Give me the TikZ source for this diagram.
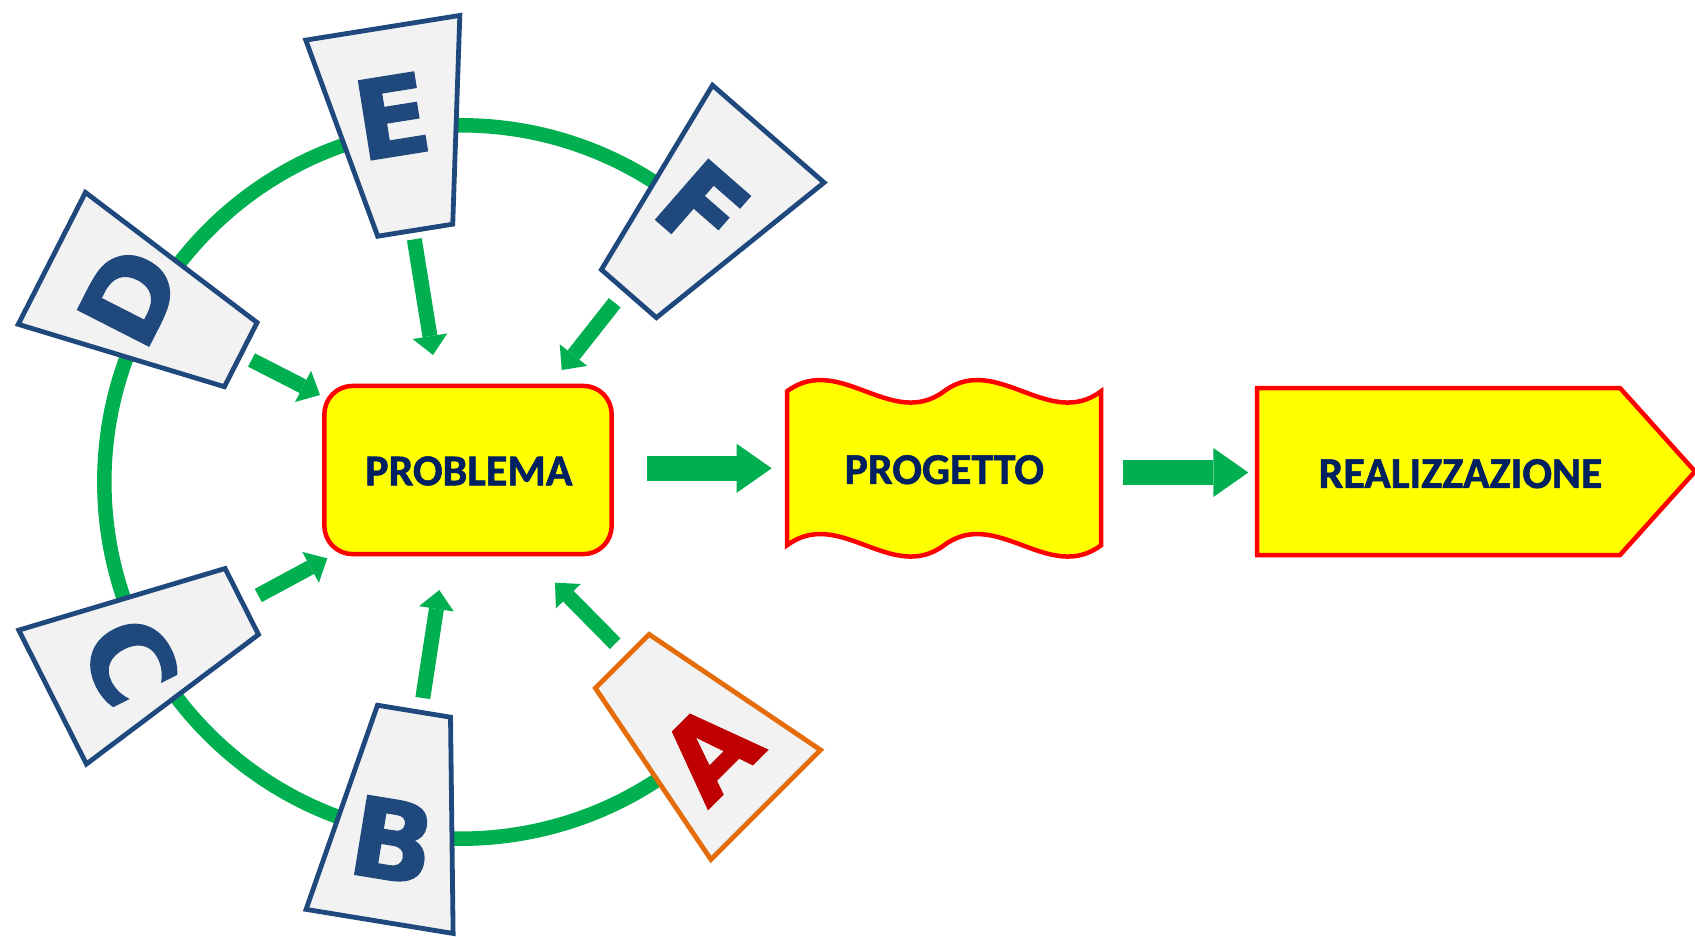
\documentclass[tikz,border=0pt]{standalone}
\usepackage{fontspec}
\usetikzlibrary{arrows.meta}
\newfontfamily\letterfont{DejaVu Sans}[BoldFeatures={FakeBold=1.3}]
\newfontfamily\boxfont{Carlito}[BoldFeatures={FakeBold=1.2}]
\definecolor{grn}{HTML}{00B050}
\definecolor{tblue}{HTML}{1F497D}
\definecolor{trapfill}{HTML}{F2F2F2}
\definecolor{navy}{HTML}{002060}
\definecolor{aorange}{HTML}{E46C0A}
\definecolor{adark}{HTML}{C00000}
\definecolor{yel}{HTML}{FFFF00}
\definecolor{rd}{HTML}{FF0000}
\tikzset{
  letter/.style={font=\letterfont\bfseries\fontsize{31.2}{31.2}\selectfont, text=tblue, inner sep=0pt},
  trapbox/.style={draw=tblue, fill=trapfill, line width=0.048cm},
  boxtext/.style={font=\boxfont\bfseries\fontsize{12.5}{12.5}\selectfont, text=navy, inner sep=0pt},
  yshape/.style={draw=rd, fill=yel, line width=0.045cm},
  ring/.style={draw=grn, line width=0.145cm},
  garrow/.style={draw=grn, line width=0.15cm, -{Triangle[width=0.35cm,length=0.19cm,line width=0pt]}},
  bigarrow/.style={draw=grn, line width=0.25cm, -{Triangle[width=0.49cm,length=0.35cm,line width=0pt]}}
}
\newcommand\trapz[7]{%
  \begin{scope}[shift={(#1,#2)}, rotate=#3]
    \draw[#7] (-#4,-#6) -- (#4,-#6) -- (#5,#6) -- (-#5,#6) -- cycle;
  \end{scope}}
\begin{document}
\begin{tikzpicture}[x=0.01cm, y=-0.01cm]
\useasboundingbox (0,0) rectangle (1695,937);
% ring
\coordinate (ctr) at (461,482);
\draw[ring] (ctr) ++(48.5:3.565cm) arc[start angle=48.5, end angle=312.9, radius=3.565cm];
% trapezoids
\trapz{399}{129}{9.1}{78}{38}{102.5}{trapbox}
\trapz{146.3}{306.5}{63}{74}{36}{106}{trapbox}
\trapz{698.6}{213.8}{-41.1}{74}{36.5}{106}{trapbox}
\trapz{147.2}{649.3}{116.8}{75}{37}{106}{trapbox}
\trapz{396.8}{816.3}{170.7}{74.5}{37}{106.5}{trapbox}
\trapz{694}{733}{225}{77.5}{38}{101.5}{trapbox, draw=aorange}
% letters
\node[letter, rotate=9.1] (E) at (392,116) {E};
\node[letter, rotate=63] (D) at (129.4,296.2) {D};
\node[letter, rotate=-41.1] (F) at (702.7,207.6) {F};
\node[letter, rotate=-63.2] (C) at (130,660.7) {C};
\node[letter, rotate=-9.3] (B) at (392.6,840) {B};
\node[letter, rotate=45, text=adark] (A) at (709.6,751.3) {A};
% main shapes
\node[yshape, rounded corners=0.28cm, minimum width=2.87cm, minimum height=1.68cm, inner sep=0pt] (Pbox) at (468,470) {};
\node[boxtext] (P) at (468.8,471) {PROBLEMA};
\draw[yshape] (787,391.3) .. controls (839.3,352.3) and (891.7,430.3) .. (944,391.3)
  .. controls (996.3,352.3) and (1048.7,430.3) .. (1101,391.3) -- (1101,545.3)
  .. controls (1048.7,584.3) and (996.3,506.3) .. (944,545.3)
  .. controls (891.7,584.3) and (839.3,506.3) .. (787,545.3) -- cycle;
\node[boxtext] (G) at (944.3,469.7) {PROGETTO};
\draw[yshape] (1257,388) -- (1620,388) -- (1695,471.5) -- (1620,555) -- (1257,555) -- cycle;
\node[boxtext] (R) at (1460.5,473.7) {REALIZZAZIONE};
% arrow end points
\coordinate (e1) at (414.3,239.3); \coordinate (e2) at (433,355);
\coordinate (d1) at (251.5,360);   \coordinate (d2) at (320,395);
\coordinate (f1) at (614.7,302.8); \coordinate (f2) at (561.7,370);
\coordinate (c1) at (258.3,595.5); \coordinate (c2) at (327.3,558.3);
\coordinate (b1) at (422.8,698);   \coordinate (b2) at (439.3,590);
\coordinate (a1) at (615.2,643.7); \coordinate (a2) at (555,582.7);
\coordinate (pg1) at (646.7,468.3); \coordinate (pg2) at (771.7,468.3);
\coordinate (gr1) at (1123.3,472.5); \coordinate (gr2) at (1248.3,472.5);
\draw[garrow] (e1) -- (e2);
\draw[garrow] (d1) -- (d2);
\draw[garrow] (f1) -- (f2);
\draw[garrow] (c1) -- (c2);
\draw[garrow] (b1) -- (b2);
\draw[garrow] (a1) -- (a2);
\draw[bigarrow] (pg1) -- (pg2);
\draw[bigarrow] (gr1) -- (gr2);
\end{tikzpicture}
\end{document}
